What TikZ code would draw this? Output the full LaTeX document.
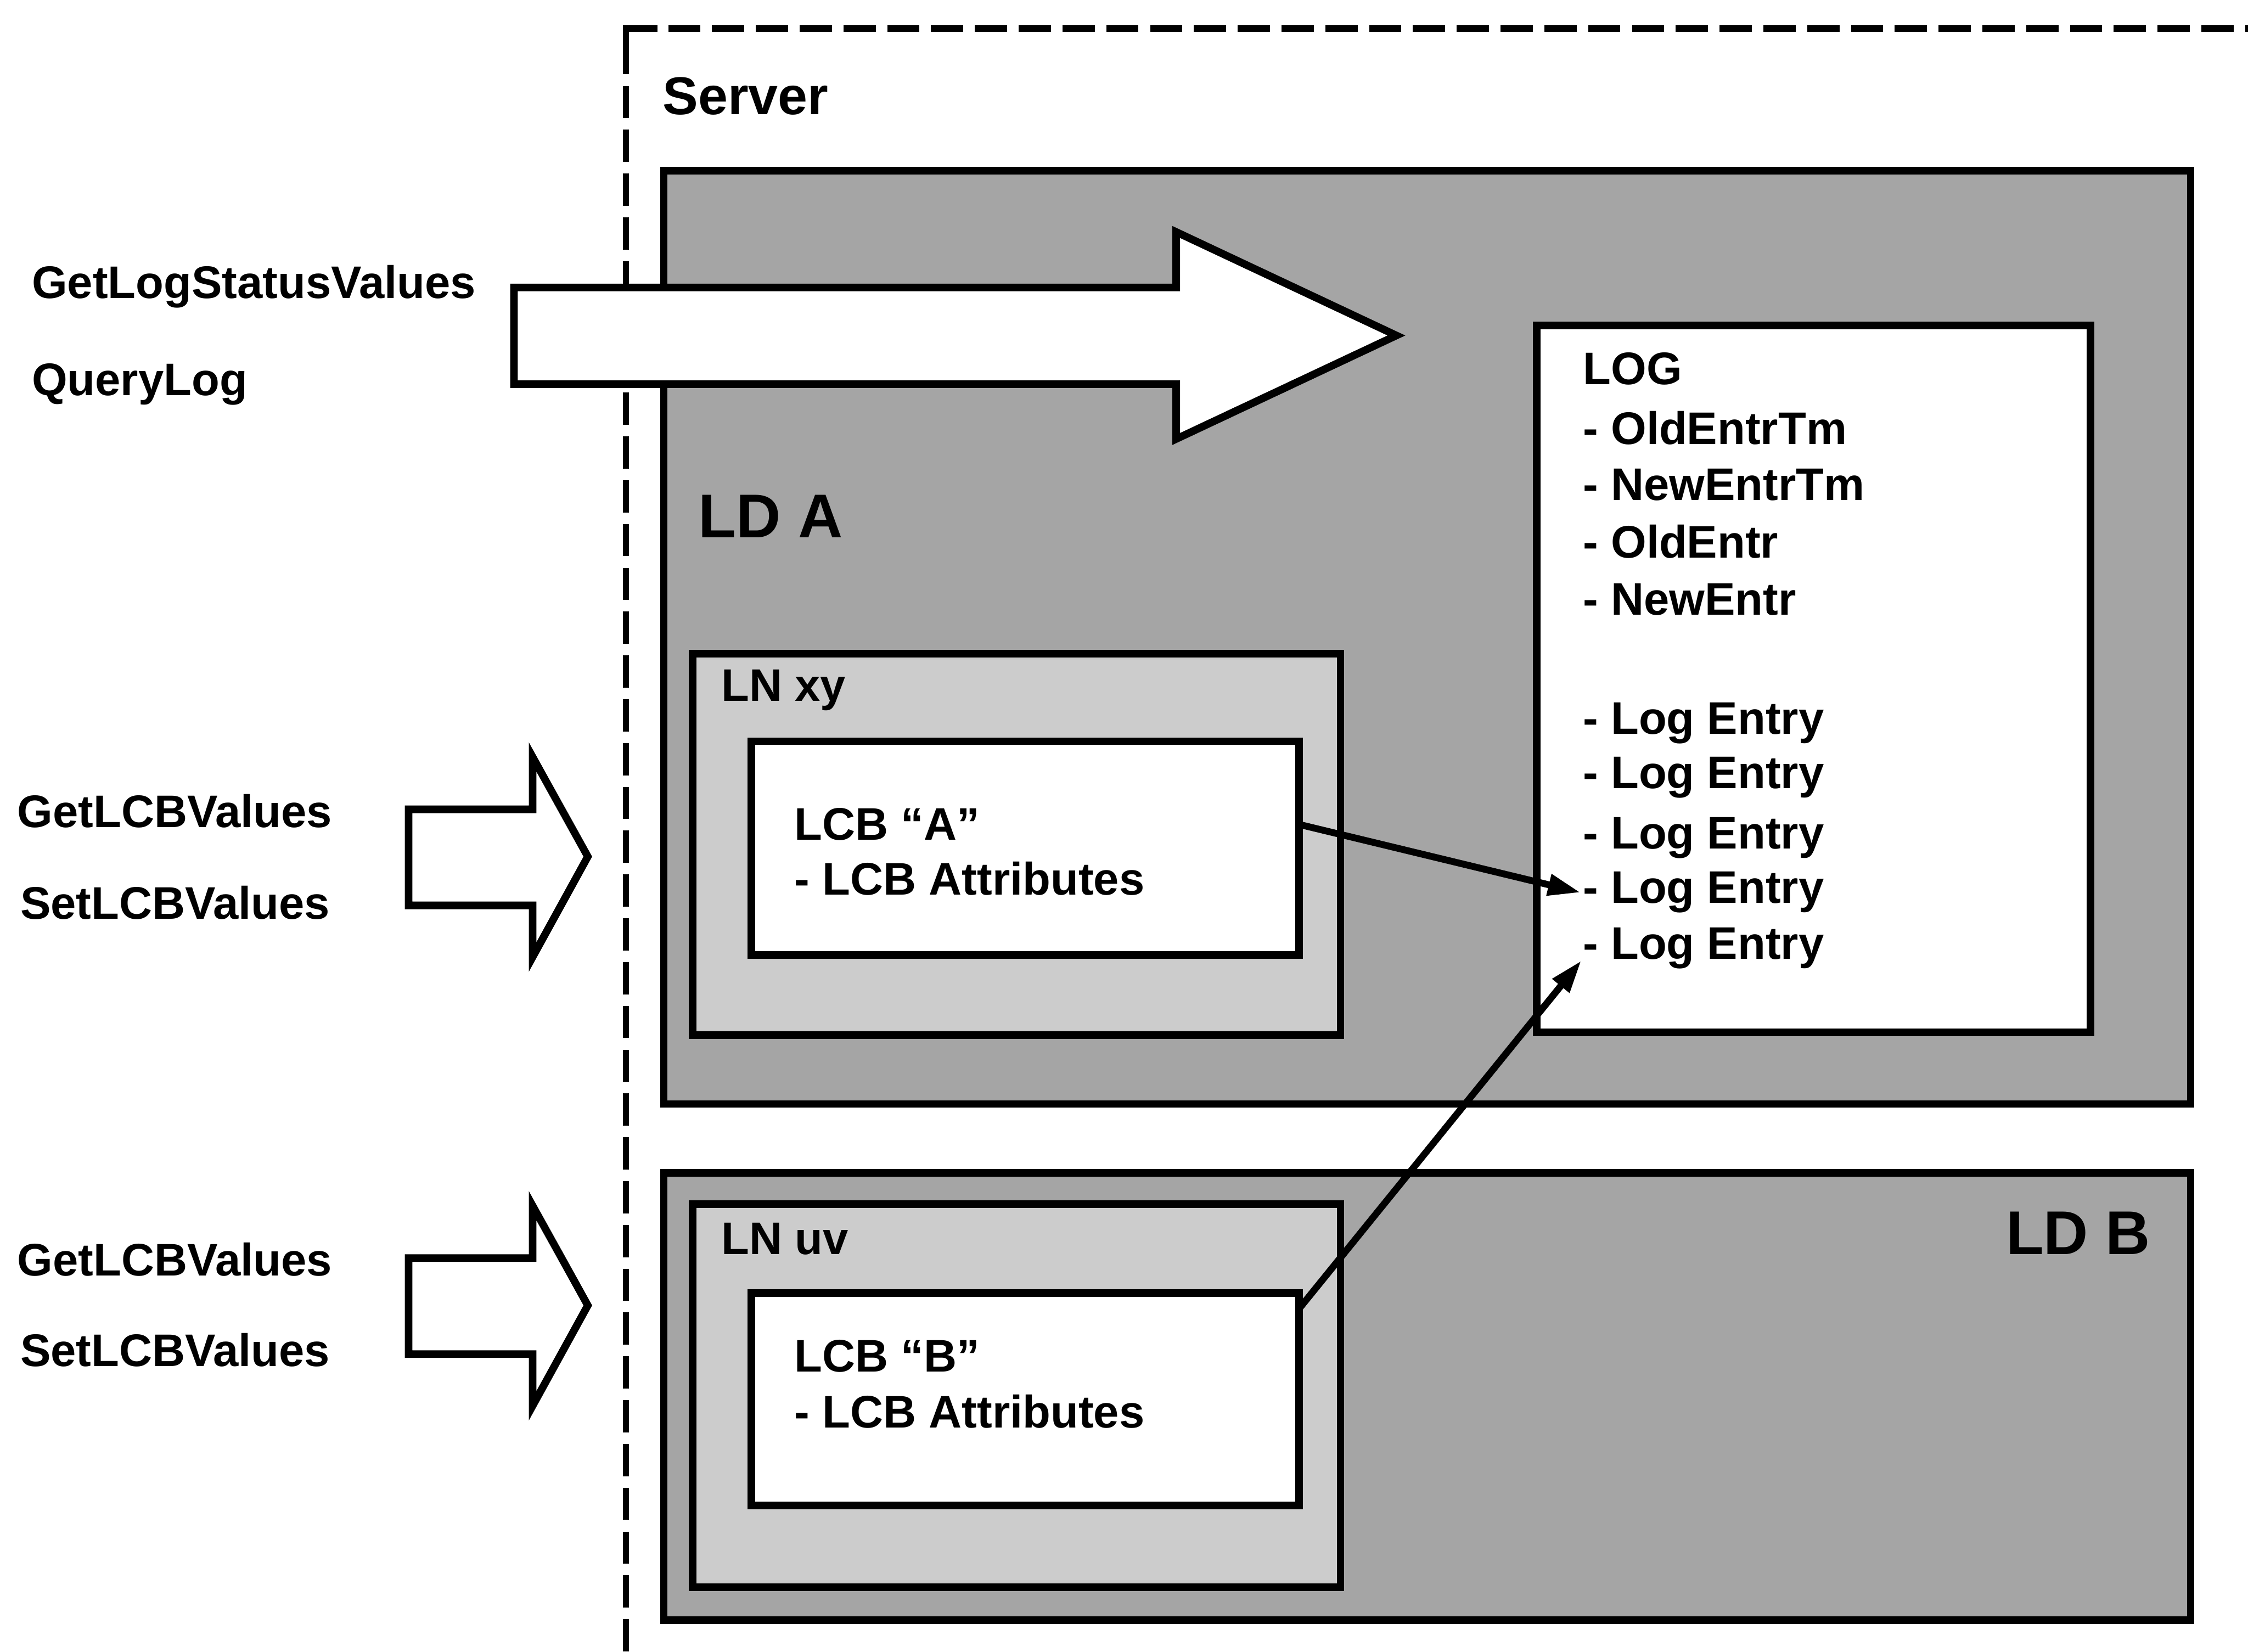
\documentclass[tikz,border=0pt]{standalone}
\usepackage{fontspec}
\setmainfont{Liberation Sans}
\usetikzlibrary{arrows.meta,calc}
\newlength\pxu \setlength\pxu{0.029356cm}
\definecolor{ldgray}{HTML}{A5A5A5}
\definecolor{lngray}{HTML}{CCCCCC}
\begin{document}
\begin{tikzpicture}[x=0.029356cm,y=-0.029356cm,
  box/.style={draw, line width=0.155cm, inner sep=0pt, outer sep=0pt, anchor=north west},
  ldbox/.style={box, fill=ldgray},
  lnbox/.style={box, fill=lngray},
  wbox/.style={box, fill=white},
  srvline/.style={line width=0.13cm, line join=miter},
  srvdash/.style={srvline, dash pattern=on 0.66cm off 0.237cm},
  txt/.style={font=\bfseries\fontsize{26.6}{30}\selectfont, anchor=base west, inner sep=0pt},
  srvtxt/.style={font=\bfseries\fontsize{31}{36}\selectfont, anchor=base west, inner sep=0pt},
  ldtxt/.style={font=\bfseries\fontsize{36}{42}\selectfont, anchor=base west, inner sep=0pt},
  blockarrow/.style={draw, fill=white, line width=0.155cm, line join=miter},
  conn/.style={line width=0.14cm, -{Triangle[length=0.67cm,width=0.42cm]}}
]
\useasboundingbox (0,0) rectangle (1568,1152);
\clip (0,0) rectangle (1568,1152);
\fill[white] (0,0) rectangle (1568,1152);

% server (dashed border, open to the right and bottom)
\coordinate (srvcorner) at (436.6,19.9);
\draw[srvline] ($(srvcorner)+(0,31.8)$) -- (srvcorner) -- ($(srvcorner)+(22.1,0)$);
\draw[srvdash] ($(srvcorner)+(29.5,0)$) -- ($(srvcorner)+(1200,0)$);
\draw[srvdash] ($(srvcorner)+(0,40.05)$) -- ($(srvcorner)+(0,1200)$);

% logical devices
\node[ldbox, minimum width=1065\pxu, minimum height=651\pxu] (ldA) at (463,119) {};
\node[ldbox, minimum width=1065\pxu, minimum height=312\pxu] (ldB) at (463,818) {};

% logical nodes
\node[lnbox, minimum width=452\pxu, minimum height=266\pxu] (lnxy) at (483,456) {};
\node[lnbox, minimum width=452\pxu, minimum height=267\pxu] (lnuv) at (483,840) {};

% LCBs and LOG
\node[wbox, minimum width=382\pxu, minimum height=149\pxu] (lcbA) at (524,517) {};
\node[wbox, minimum width=382\pxu, minimum height=148\pxu] (lcbB) at (524,902) {};
\node[wbox, minimum width=386\pxu, minimum height=493\pxu] (log) at (1072,227) {};

% block arrows (services)
\draw[blockarrow] (358.5,200.5) -- (820.4,200.5) -- (820.4,161.8) -- (974,234) -- (820.4,306.2) -- (820.4,268) -- (358.5,268) -- cycle;
\draw[blockarrow] (285,564.5) -- (371.5,564.5) -- (371.5,528) -- (410,597.5) -- (371.5,667.5) -- (371.5,631.5) -- (285,631.5) -- cycle;
\draw[blockarrow] (285,877.5) -- (371.5,877.5) -- (371.5,841) -- (410,910.5) -- (371.5,980.5) -- (371.5,944.5) -- (285,944.5) -- cycle;

% connectors
\coordinate (e4) at (1102.5,622.5);
\coordinate (e5) at (1103,670);
\draw[conn] ($(lcbA.north east)+(0,58)$) -- (e4);
\draw[conn] ($(lcbB.north east)+(0,11)$) -- (e5);

% texts
\node[srvtxt] (tserver) at (462,80) {Server};
\node[ldtxt] (tldA) at (487,375) {LD A};
\node[ldtxt, anchor=base east] (tldB) at (1500,875) {LD B};
\node[txt] (tlnxy) at (503,489) {LN xy};
\node[txt] (tlnuv) at (503,875) {LN uv};
\node[txt] (tlcbA1) at (554,586) {LCB “A”};
\node[txt] (tlcbA2) at (554,624) {- LCB Attributes};
\node[txt] (tlcbB1) at (554,957) {LCB “B”};
\node[txt] (tlcbB2) at (554,996) {- LCB Attributes};

\node[txt] (tlog) at (1104,268) {LOG};
\node[txt] (tl1) at (1104,310) {- OldEntrTm};
\node[txt] (tl2) at (1104,349) {- NewEntrTm};
\node[txt] (tl3) at (1104,389) {- OldEntr};
\node[txt] (tl4) at (1104,429) {- NewEntr};
\node[txt] (tle1) at (1104,512) {- Log Entry};
\node[txt] (tle2) at (1104,550) {- Log Entry};
\node[txt] (tle3) at (1104,592) {- Log Entry};
\node[txt] (tle4) at (1104,630) {- Log Entry};
\node[txt] (tle5) at (1104,669) {- Log Entry};

\node[txt] (tgls) at (22,208) {GetLogStatusValues};
\node[txt] (tql) at (22,276) {QueryLog};
\node[txt] (tget1) at (12,577) {GetLCBValues};
\node[txt] (tset1) at (14,641) {SetLCBValues};
\node[txt] (tget2) at (12,890) {GetLCBValues};
\node[txt] (tset2) at (14,953) {SetLCBValues};
\end{tikzpicture}
\end{document}
